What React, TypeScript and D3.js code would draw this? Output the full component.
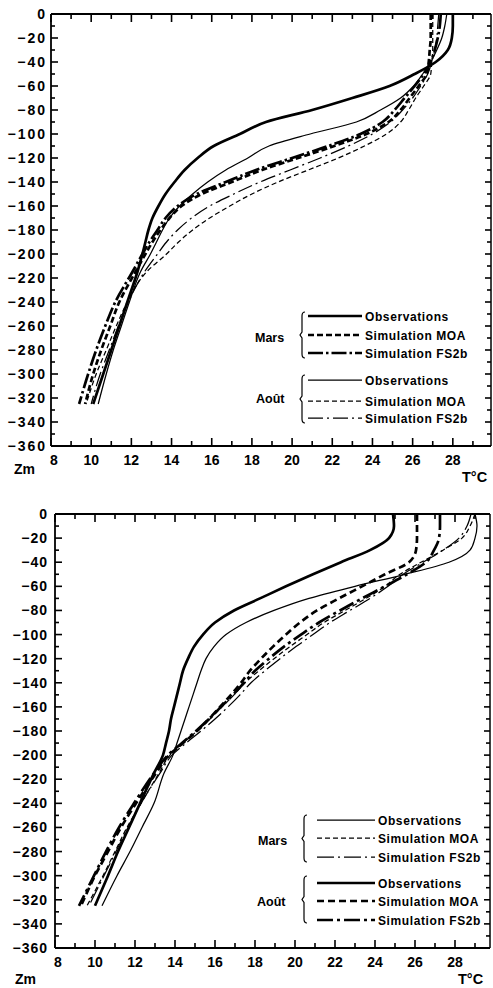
import React from "react";
import * as d3 from "d3";

// Depth grid (m) shared by every profile
const DEPTHS = [0, -10, -20, -30, -40, -50, -60, -70, -80, -90, -100, -110, -120, -130, -140, -150, -160, -170, -180, -190, -200, -215, -240, -260, -280, -300, -325];

// Tick values
const X_TICKS = [8, 9, 10, 11, 12, 13, 14, 15, 16, 17, 18, 19, 20, 21, 22, 23, 24, 25, 26, 27, 28, 29];
const X_LABELS = [8, 10, 12, 14, 16, 18, 20, 22, 24, 26, 28];
const Y_TICKS = [0, -10, -20, -30, -40, -50, -60, -70, -80, -90, -100, -110, -120, -130, -140, -150, -160, -170, -180, -190, -200, -210, -220, -230, -240, -250, -260, -270, -280, -290, -300, -310, -320, -330, -340, -350, -360];
const Y_LABELS = [0, -20, -40, -60, -80, -100, -120, -140, -160, -180, -200, -220, -240, -260, -280, -300, -320, -340, -360];

// Legend texts
const GROUPS = ["Mars", "Août"];
const ROW_LABELS = ["Observations", "Simulation MOA", "Simulation FS2b"];

// Upper chart temperatures (°C)
const TOP_MARS_OBS = [28.0, 28.0, 27.95, 27.75, 27.15, 26.1, 24.85, 23.0, 21.0, 18.7, 17.4, 16.1, 15.3, 14.65, 14.15, 13.7, 13.35, 13.05, 12.85, 12.7, 12.55, 12.3, 11.8, 11.4, 11.0, 10.6, 10.1];
const TOP_MARS_MOA = [26.9, 26.9, 26.9, 26.85, 26.8, 26.7, 26.3, 25.85, 25.4, 24.8, 23.7, 22.1, 20.3, 18.5, 17.0, 15.5, 14.5, 13.9, 13.45, 13.05, 12.7, 12.2, 11.4, 10.95, 10.5, 10.1, 9.7];
const TOP_MARS_FS2B = [27.4, 27.35, 27.25, 27.1, 26.9, 26.55, 26.1, 25.6, 25.1, 24.5, 23.4, 21.8, 20.0, 18.2, 16.7, 15.25, 14.3, 13.7, 13.3, 12.9, 12.55, 12.05, 11.2, 10.7, 10.25, 9.85, 9.4];
const TOP_AOUT_OBS = [27.7, 27.6, 27.45, 27.2, 26.9, 26.5, 26.05, 25.4, 24.4, 23.2, 20.9, 18.85, 17.8, 16.7, 15.8, 15.05, 14.4, 13.9, 13.55, 13.25, 12.95, 12.45, 11.9, 11.5, 11.1, 10.75, 10.35];
const TOP_AOUT_MOA = [27.0, 27.0, 27.0, 27.0, 26.95, 26.9, 26.55, 26.15, 25.8, 25.4, 24.7, 23.6, 22.3, 20.8, 19.3, 18.0, 16.9, 15.9, 15.05, 14.35, 13.75, 12.75, 11.8, 11.25, 10.75, 10.25, 9.75];
const TOP_AOUT_FS2B = [27.3, 27.25, 27.2, 27.1, 26.95, 26.75, 26.4, 26.0, 25.5, 24.9, 24.0, 22.8, 21.4, 19.9, 18.4, 17.1, 15.9, 15.0, 14.3, 13.75, 13.3, 12.65, 11.85, 11.35, 10.9, 10.45, 10.0];

// Lower chart temperatures (°C)
const BOT_MARS_OBS = [29.0, 29.1, 29.0, 28.75, 27.7, 25.5, 23.0, 20.7, 18.95, 17.55, 16.55, 15.95, 15.55, 15.3, 15.1, 14.9, 14.7, 14.5, 14.3, 14.1, 13.9, 13.45, 12.95, 12.35, 11.75, 11.1, 10.35];
const BOT_MARS_MOA = [29.0, 28.75, 28.35, 27.4, 26.3, 25.25, 24.5, 23.55, 22.5, 21.45, 20.6, 19.75, 18.95, 18.2, 17.5, 16.95, 16.35, 15.75, 15.1, 14.4, 13.75, 13.2, 12.3, 11.6, 11.0, 10.4, 9.6];
const BOT_MARS_FS2B = [28.8, 28.6, 28.2, 27.4, 26.4, 25.4, 24.65, 23.75, 22.75, 21.75, 20.9, 20.05, 19.25, 18.5, 17.8, 17.25, 16.65, 16.0, 15.3, 14.55, 13.85, 13.25, 12.3, 11.65, 11.05, 10.45, 9.7];
const BOT_AOUT_OBS = [24.9, 24.95, 24.7, 23.75, 22.3, 20.9, 19.55, 18.25, 16.95, 16.0, 15.4, 14.95, 14.65, 14.4, 14.25, 14.1, 13.95, 13.8, 13.7, 13.55, 13.4, 12.95, 12.25, 11.7, 11.15, 10.65, 10.0];
const BOT_AOUT_MOA = [26.1, 26.1, 26.1, 26.05, 25.7, 24.5, 23.35, 22.2, 21.1, 20.25, 19.55, 18.9, 18.3, 17.75, 17.3, 16.8, 16.25, 15.7, 15.1, 14.4, 13.7, 13.05, 12.05, 11.3, 10.65, 10.0, 9.3];
const BOT_AOUT_FS2B = [27.25, 27.25, 27.2, 26.95, 26.55, 25.6, 24.5, 23.35, 22.25, 21.2, 20.3, 19.45, 18.7, 18.0, 17.45, 16.9, 16.3, 15.7, 15.05, 14.35, 13.65, 12.95, 11.95, 11.2, 10.55, 9.95, 9.2];

const FONT = "'Liberation Sans', Arial, Helvetica, sans-serif";

type Style = { w: number; dash: string | null };
type Cfg = {
  xDomain: [number, number];
  xRange: [number, number];
  yRange: [number, number];
  yLabelRight: number;
  yLabelSpacing: number;
  xLabelBase: number;
  zm: [number, number];
  tc: [number, number];
  series: number[][];
  styles: Style[];
  groupPos: [number, number][];
  braces: [number, number, number][];
  lineX: [number, number];
  textX: number;
  rowY: number[];
};

const THICK = 2.7;
const THIN = 1.25;

const topCfg: Cfg = {
  xDomain: [8, 29.9],
  xRange: [51, 491],
  yRange: [14, 446],
  yLabelRight: 47,
  yLabelSpacing: 2,
  xLabelBase: 465,
  zm: [14, 474],
  tc: [462, 482],
  series: [TOP_MARS_OBS, TOP_MARS_MOA, TOP_MARS_FS2B, TOP_AOUT_OBS, TOP_AOUT_MOA, TOP_AOUT_FS2B],
  styles: [
    { w: THICK, dash: null },
    { w: THICK, dash: "6,3" },
    { w: THICK, dash: "15,3,2.5,3" },
    { w: THIN, dash: null },
    { w: THIN, dash: "5,3" },
    { w: THIN, dash: "15,4,2,4" },
  ],
  groupPos: [[255, 342], [256, 403]],
  braces: [[302, 312, 358], [302, 375, 423]],
  lineX: [308, 362],
  textX: 365,
  rowY: [316, 335, 353, 380, 401, 418],
};

const botCfg: Cfg = {
  xDomain: [8, 29.75],
  xRange: [55, 490],
  yRange: [514, 948],
  yLabelRight: 48,
  yLabelSpacing: 1,
  xLabelBase: 967,
  zm: [15, 984],
  tc: [458, 984],
  series: [BOT_MARS_OBS, BOT_MARS_MOA, BOT_MARS_FS2B, BOT_AOUT_OBS, BOT_AOUT_MOA, BOT_AOUT_FS2B],
  styles: [
    { w: THIN, dash: null },
    { w: THIN, dash: "5,3" },
    { w: THIN, dash: "17,4,2,4" },
    { w: THICK, dash: null },
    { w: THICK, dash: "7,4" },
    { w: THICK, dash: "16,4,3,4" },
  ],
  groupPos: [[258, 845], [257, 906]],
  braces: [[304, 815, 862], [304, 876, 923]],
  lineX: [317, 375],
  textX: 378,
  rowY: [820, 838, 857, 883, 901, 920],
};

function fmt(v: number) {
  return v < 0 ? "\u2212" + Math.abs(v) : String(v);
}

function Chart({ cfg }: { cfg: Cfg }) {
  const x = d3.scaleLinear().domain(cfg.xDomain).range(cfg.xRange);
  const y = d3.scaleLinear().domain([0, -360]).range(cfg.yRange);
  const [x0, x1] = cfg.xRange;
  const [y0, y1] = cfg.yRange;
  const line = d3
    .line<[number, number]>()
    .x((d) => x(d[0]))
    .y((d) => y(d[1]))
    .curve(d3.curveMonotoneY);

  const brace = (bx: number, a: number, b: number) => {
    const m = (a + b) / 2;
    return `M${bx + 3},${a} Q${bx},${a} ${bx},${a + 4} L${bx},${m - 3} L${bx - 2},${m} L${bx},${m + 3} L${bx},${b - 4} Q${bx},${b} ${bx + 3},${b}`;
  };

  return (
    <g>
      <line x1={x0} x2={x1} y1={y0} y2={y0} stroke="#000" strokeWidth={1.8} />
      <line x1={x0} x2={x1} y1={y1} y2={y1} stroke="#000" strokeWidth={1.8} />
      <line x1={x0} x2={x0} y1={y0} y2={y1} stroke="#000" strokeWidth={1.8} />
      <line x1={x1} x2={x1} y1={y0} y2={y1} stroke="#000" strokeWidth={1.5} />
      {X_TICKS.map((t) => {
        const len = t % 2 === 0 ? 8 : 5;
        return (
          <g key={"xt" + t}>
            <line x1={x(t)} x2={x(t)} y1={y0} y2={y0 + len} stroke="#000" strokeWidth={1.6} />
            <line x1={x(t)} x2={x(t)} y1={y1} y2={y1 - len} stroke="#000" strokeWidth={1.6} />
          </g>
        );
      })}
      {X_LABELS.map((t) => (
        <text key={"xl" + t} x={x(t) + (t === 8 ? 3 : 0)} y={cfg.xLabelBase} textAnchor="middle" fontSize={14} fontWeight="bold" fontFamily={FONT}>
          {t}
        </text>
      ))}
      {Y_TICKS.map((v) => {
        const major = v % 20 === 0;
        return (
          <g key={"yt" + v}>
            <line x1={x0} x2={x0 + (major ? 7 : 4)} y1={y(v)} y2={y(v)} stroke="#000" strokeWidth={1.6} />
            <line x1={x1} x2={x1 - (major ? 6 : 4)} y1={y(v)} y2={y(v)} stroke="#000" strokeWidth={1.6} />
          </g>
        );
      })}
      {Y_LABELS.map((v) => (
        <text key={"yl" + v} x={cfg.yLabelRight} y={y(v) + 5} textAnchor="end" fontSize={14} fontWeight="bold" fontFamily={FONT} letterSpacing={cfg.yLabelSpacing}>
          {fmt(v)}
        </text>
      ))}
      <text x={cfg.zm[0]} y={cfg.zm[1]} fontSize={14} fontWeight="bold" fontFamily={FONT}>Zm</text>
      <text x={cfg.tc[0]} y={cfg.tc[1]} fontSize={14.5} fontWeight="bold" fontFamily={FONT}>T°C</text>
      {cfg.series.map((temps, i) => {
        const pts: [number, number][] = temps.map((t, j) => [t, DEPTHS[j]]);
        const st = cfg.styles[i];
        return (
          <path key={"s" + i} d={line(pts) || ""} fill="none" stroke="#000" strokeWidth={st.w} strokeDasharray={st.dash || undefined} strokeLinejoin="round" />
        );
      })}
      {GROUPS.map((g, gi) => (
        <g key={"g" + gi}>
          <text x={cfg.groupPos[gi][0]} y={cfg.groupPos[gi][1]} fontSize={12.5} fontWeight="bold" fontFamily={FONT}>{g}</text>
          <path d={brace(cfg.braces[gi][0], cfg.braces[gi][1], cfg.braces[gi][2])} fill="none" stroke="#000" strokeWidth={1.2} />
        </g>
      ))}
      {cfg.styles.map((st, i) => (
        <g key={"l" + i}>
          <line x1={cfg.lineX[0]} x2={cfg.lineX[1]} y1={cfg.rowY[i]} y2={cfg.rowY[i]} stroke="#000" strokeWidth={st.w} strokeDasharray={st.dash || undefined} />
          <text x={cfg.textX} y={cfg.rowY[i] + 4.5} fontSize={12} fontWeight="bold" fontFamily={FONT} letterSpacing={0.6}>
            {ROW_LABELS[i % 3]}
          </text>
        </g>
      ))}
    </g>
  );
}

export default function App() {
  return (
    <svg width={493} height={988} style={{ position: "absolute", left: 0, top: 0, background: "#fff" }}>
      <rect width={493} height={988} fill="#fff" />
      <Chart cfg={topCfg} />
      <Chart cfg={botCfg} />
    </svg>
  );
}
